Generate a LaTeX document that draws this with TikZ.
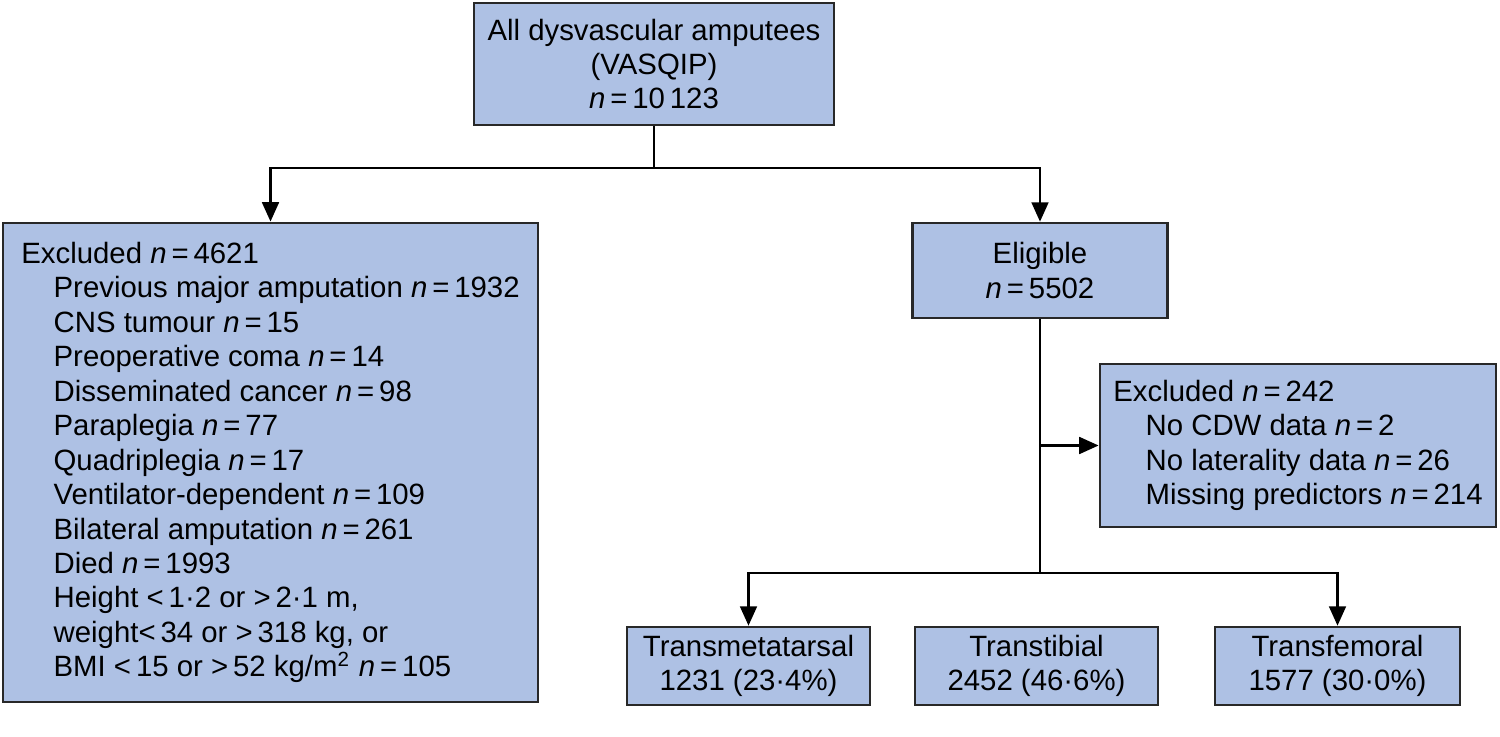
\documentclass[tikz,border=0pt]{standalone}
\usepackage{fontspec}
\setmainfont{Liberation Sans}
\usepackage{xcolor}
\usetikzlibrary{shapes,arrows.meta,positioning,calc}
\definecolor{boxblue}{RGB}{174,193,228}
\definecolor{boxline}{RGB}{40,40,40}
\newcommand{\nval}[1]{\mbox{\textit{n}\,=\,#1}}
\newcommand{\sub}{\hspace*{1.1em}}

\begin{document}
\begin{tikzpicture}[x=0.01cm,y=-0.01cm,
  font=\fontsize{8.35}{9.8}\selectfont,
  box/.style={rectangle, draw=boxline, fill=boxblue, line width=0.75pt, inner sep=0pt, align=center},
  arr/.style={-{Triangle[length=5.5pt,width=4.8pt]}, line width=0.6pt}]
\useasboundingbox (0,0) rectangle (1500,737);

\node[box, minimum width=3.6cm, minimum height=1.22cm] (all) at (654,64) {All dysvascular amputees\\(VASQIP)\\\nval{10\,123}};
\node[box, minimum width=5.35cm, minimum height=4.79cm, align=left] (excl) at (270.5,462.5) {Excluded \nval{4621}\\
\sub Previous major amputation \nval{1932}\\
\sub CNS tumour \nval{15}\\
\sub Preoperative coma \nval{14}\\
\sub Disseminated cancer \nval{98}\\
\sub Paraplegia \nval{77}\\
\sub Quadriplegia \nval{17}\\
\sub Ventilator-dependent \nval{109}\\
\sub Bilateral amputation \nval{261}\\
\sub Died \nval{1993}\\
\sub Height {<}\,1·2 or {>}\,2·1 m,\\
\sub weight{<}\,34 or {>}\,318 kg, or\\
\sub BMI {<}\,15 or {>}\,52 kg/m\textsuperscript{2} \nval{105}};
\node[box, minimum width=2.55cm, minimum height=0.95cm] (elig) at (1040,270.5) {Eligible\\\nval{5502}};
\node[box, minimum width=3.96cm, minimum height=1.63cm, align=left] (excl2) at (1298,445.5) {Excluded \nval{242}\\
\sub No CDW data \nval{2}\\
\sub No laterality data \nval{26}\\
\sub Missing predictors \nval{214}};
\node[box, minimum width=2.43cm, minimum height=0.78cm] (tmt) at (748.5,666) {Transmetatarsal\\1231 (23·4\%)};
\node[box, minimum width=2.43cm, minimum height=0.78cm] (ttb) at (1036.5,666) {Transtibial\\2452 (46·6\%)};
\node[box, minimum width=2.45cm, minimum height=0.78cm] (tfm) at (1337.5,666) {Transfemoral\\1577 (30·0\%)};

\coordinate (split1) at ($(all.south)+(0,42)$);
\coordinate (split2) at (elig.south |- 0,573);
\coordinate (side) at (elig.south |- excl2.west);

\draw[line width=0.6pt] (all.south) -- (split1);
\draw[arr] (split1) -| (excl.north);
\draw[arr] (split1) -| (elig.north);
\draw[line width=0.6pt] (elig.south) -- (split2);
\draw[arr] (side) -- (excl2.west);
\draw[arr] (split2) -| (tmt.north);
\draw[arr] (split2) -| (tfm.north);
\end{tikzpicture}
\end{document}
